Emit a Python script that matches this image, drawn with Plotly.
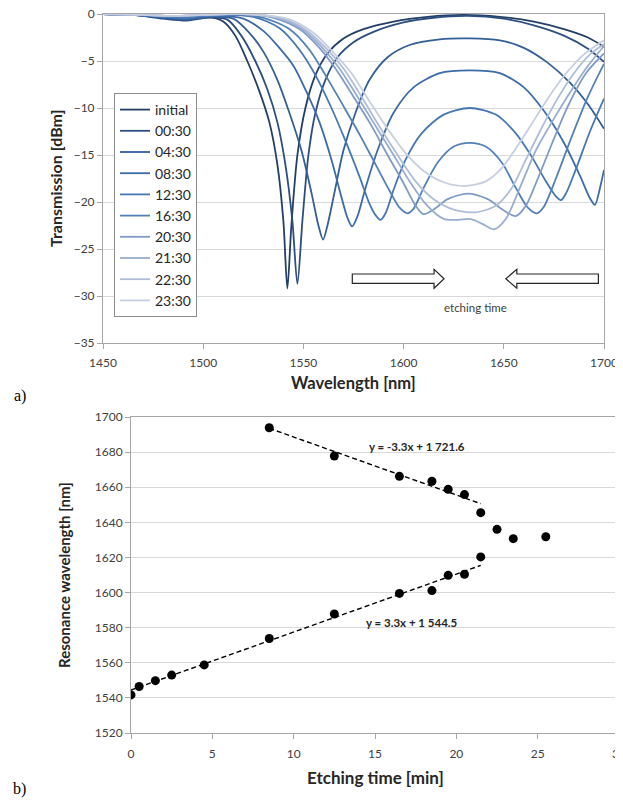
import plotly.graph_objects as go

# ---------------- Panel a) transmission spectra ----------------
legend_labels = ["initial", "00:30", "04:30", "08:30", "12:30", "16:30",
                 "20:30", "21:30", "22:30", "23:30"]

wl_initial = [1450, 1465, 1480, 1492, 1502, 1510, 1516, 1522, 1528, 1533, 1537, 1540, 1542, 1544, 1547,
              1551, 1556, 1562, 1570, 1580, 1595, 1612, 1630, 1648, 1665, 1680, 1692, 1700]
tr_initial = [0, -0.1, -0.4, -0.6, -0.3, -0.8, -2.3, -5, -8.2, -11.5, -16, -22, -29.2, -22.5, -15,
              -10, -6.5, -4.2, -2.6, -1.6, -0.8, -0.3, -0.1, -0.3, -0.8, -1.6, -2.5, -3.5]

wl_0030 = [1450, 1465, 1480, 1492, 1502, 1512, 1519, 1526, 1532, 1537, 1541, 1544.5, 1547, 1549.5, 1552.5,
           1556, 1561, 1567, 1575, 1585, 1600, 1615, 1632, 1650, 1665, 1680, 1692, 1700]
tr_0030 = [0, -0.1, -0.5, -0.7, -0.4, -0.6, -2.3, -5, -8, -11.5, -16, -22, -28.7, -22, -15,
           -10.5, -7, -4.6, -3, -1.9, -0.9, -0.4, -0.2, -0.5, -1.2, -2.3, -3.7, -5.1]

wl_0430 = [1450, 1465, 1480, 1492, 1503, 1515, 1523, 1530, 1537, 1543, 1549, 1554, 1557.5, 1559.8, 1562,
           1565.5, 1570, 1576, 1583, 1592, 1603, 1618, 1633, 1648, 1660, 1672, 1683, 1692, 1700]
tr_0430 = [0, -0.1, -0.4, -0.6, -0.3, -0.5, -2, -4, -7, -10.5, -14.5, -19, -22.5, -24, -22.5,
           -19, -14.5, -10.5, -7, -4.6, -3.3, -2.7, -2.6, -2.8, -3.6, -5.2, -7.3, -9.6, -12.2]

wl_0830 = [1450, 1465, 1480, 1492, 1505, 1520, 1530, 1538, 1545, 1552, 1558, 1564, 1569, 1572, 1574.3,
           1577, 1581, 1587, 1595, 1605, 1618, 1633, 1648, 1660, 1670, 1680, 1688, 1693, 1695.5, 1698, 1700]
tr_0830 = [0, -0.1, -0.3, -0.5, -0.2, -0.5, -1.8, -3.6, -5.5, -8.5, -11.5, -15.5, -19.5, -21.7, -22.6,
           -21.5, -18.5, -14.5, -10.5, -7.8, -6.3, -6, -6.3, -7.8, -10.3, -13.7, -17.2, -19.6, -20.3, -18.5, -16.6]

wl_1230 = [1450, 1465, 1480, 1492, 1505, 1525, 1538, 1548, 1556, 1564, 1571, 1578, 1583, 1586, 1588.5,
           1591, 1595, 1601, 1609, 1620, 1633, 1646, 1656, 1664, 1671, 1676, 1678.5, 1681, 1686, 1693, 1700]
tr_1230 = [0, -0.1, -0.3, -0.4, -0.1, -0.3, -1.5, -3.8, -6.5, -10, -13.5, -17.3, -20.2, -21.4, -21.9,
           -21.2, -18.7, -15.5, -12.7, -10.7, -10, -10.7, -12.7, -15.2, -17.8, -19.4, -19.8, -19.1, -16.5, -12.5, -9]

wl_1630 = [1450, 1470, 1485, 1500, 1515, 1530, 1543, 1553, 1561, 1570, 1578, 1586, 1593, 1598, 1602,
           1605, 1610, 1617, 1625, 1633, 1641, 1649, 1656, 1662, 1666.5, 1670, 1676, 1684, 1692, 1700]
tr_1630 = [0, -0.1, -0.3, -0.2, -0.1, -0.4, -1.6, -3.8, -6.5, -9.8, -12.8, -16, -18.8, -20.6, -21.2,
           -20.7, -18.5, -15.8, -14.1, -13.7, -14.1, -15.8, -18.5, -20.6, -21.2, -20.5, -17.5, -13, -8.8, -5.3]

wl_2030 = [1450, 1470, 1485, 1500, 1520, 1535, 1548, 1558, 1566, 1575, 1584, 1592, 1600, 1606, 1610,
           1615, 1622, 1632, 1642, 1650, 1656, 1661, 1667, 1674, 1682, 1691, 1700]
tr_2030 = [0, -0.1, -0.2, -0.1, 0, -0.4, -1.6, -3.6, -5.8, -8.8, -11.9, -15, -18, -20.4, -21.3,
           -20.8, -19.7, -19.1, -19.7, -20.9, -21.5, -20.4, -17.5, -13.8, -9.8, -6.3, -4.2]

wl_2130 = [1450, 1470, 1485, 1500, 1520, 1537, 1550, 1560, 1568, 1577, 1586, 1595, 1603, 1611, 1620,
           1627, 1633, 1639, 1645, 1651, 1658, 1666, 1674, 1682, 1691, 1700]
tr_2130 = [0, -0.1, -0.2, -0.1, 0, -0.4, -1.7, -3.7, -5.8, -8.8, -11.9, -15, -17.8, -20.2, -21.8,
           -21.9, -21.8, -22.3, -22.9, -21.8, -18.5, -14.5, -11.5, -8.7, -5.8, -3.4]

wl_2230 = [1450, 1470, 1485, 1500, 1520, 1540, 1552, 1562, 1570, 1579, 1588, 1597, 1606, 1615, 1625,
           1636, 1646, 1654, 1661, 1668, 1676, 1685, 1693, 1700]
tr_2230 = [0, -0.1, -0.2, -0.1, 0, -0.5, -1.8, -3.8, -5.8, -8.8, -12, -15, -17.8, -19.7, -20.8,
           -21.1, -20.4, -18.5, -15.5, -12.5, -9.3, -6.3, -4.3, -3.2]

wl_2330 = [1450, 1470, 1485, 1500, 1520, 1542, 1555, 1565, 1574, 1583, 1592, 1601, 1610, 1620, 1631,
           1641, 1649, 1656, 1663, 1671, 1680, 1690, 1700]
tr_2330 = [0, -0.1, -0.2, -0.1, 0, -0.5, -2, -4.1, -6.3, -9.3, -12.2, -14.8, -16.7, -17.9, -18.3,
           -17.8, -16.4, -14.3, -12, -9.3, -6.6, -4.3, -2.8]

# ---------------- Panel b) resonance wavelength vs etching time ----------------
time_lower = [0, 0.5, 1.5, 2.5, 4.5, 8.5, 12.5, 16.5, 18.5, 19.5, 20.5, 21.5]
res_lower = [1541.7, 1546.5, 1549.8, 1553, 1558.8, 1573.8, 1587.8, 1599.5, 1601.1, 1609.8, 1610.4, 1620.3]
time_upper = [8.5, 12.5, 16.5, 18.5, 19.5, 20.5, 21.5]
res_upper = [1693.9, 1677.8, 1666.2, 1663.4, 1658.8, 1655.8, 1645.5]
time_single = [22.5, 23.5, 25.5]
res_single = [1636, 1630.7, 1631.8]

fit_upper = (-3.3, 1721.6)   # slope, intercept (as printed on chart)
fit_lower = (3.3, 1544.5)
fit_upper_label = "y = -3.3x + 1 721.6"
fit_lower_label = "y = 3.3x + 1 544.5"

# ---------------- styling ----------------
line_colors = ["#243F66", "#2C4E80", "#345F97", "#3C6CA8", "#4677B3", "#5280B8",
               "#7F9BC5", "#97ACCF", "#AFBDD8", "#C6CEDF"]
FONT = "Lato, 'Open Sans', sans-serif"
GRID = "#D9D9D9"
AXLINE = "#A6A6A6"
TICKC = "#404040"

# page has an 8px body margin: the figure starts at (8, 8) of the window
OFF = 8
W, H = 623 - OFF, 802 - OFF
def fx(px):
    return (px - OFF) / W
def fy(py):
    return 1 - (py - OFF) / H

fig = go.Figure()

spectra = [(wl_initial, tr_initial), (wl_0030, tr_0030), (wl_0430, tr_0430), (wl_0830, tr_0830),
           (wl_1230, tr_1230), (wl_1630, tr_1630), (wl_2030, tr_2030), (wl_2130, tr_2130),
           (wl_2230, tr_2230), (wl_2330, tr_2330)]

for label, (wl, tr), col in zip(legend_labels, spectra, line_colors):
    fig.add_trace(go.Scatter(
        x=wl, y=tr, mode="lines", name=label,
        line=dict(color=col, width=1.8, shape="spline", smoothing=0.8),
        xaxis="x", yaxis="y", hoverinfo="skip"))

# trend lines
for (ts, (m, c)) in [(time_upper, fit_upper), (time_lower, fit_lower)]:
    xs = [min(ts), max(ts)]
    fig.add_trace(go.Scatter(
        x=xs, y=[m * v + c for v in xs], mode="lines", showlegend=False,
        line=dict(color="black", width=1.4, dash="5px,3px"),
        xaxis="x2", yaxis="y2", hoverinfo="skip"))

for ts, rs in [(time_lower, res_lower), (time_upper, res_upper), (time_single, res_single)]:
    fig.add_trace(go.Scatter(
        x=ts, y=rs, mode="markers", showlegend=False,
        marker=dict(color="black", size=9),
        xaxis="x2", yaxis="y2", hoverinfo="skip"))

axis_common = dict(showline=True, linecolor=AXLINE, linewidth=1, mirror=True,
                   ticks="outside", ticklen=5, tickcolor=AXLINE, zeroline=False,
                   automargin=False, ticklabeloverflow="allow",
                   tickfont=dict(family=FONT, size=12, color=TICKC))

fig.update_layout(
    width=W, height=H,
    margin=dict(l=0, r=0, t=0, b=0, autoexpand=False),
    paper_bgcolor="white", plot_bgcolor="white",
    font=dict(family=FONT, color=TICKC),
    xaxis=dict(domain=[fx(103), fx(604)], range=[1450, 1700], tick0=1450, dtick=50,
               showgrid=False, anchor="y", ticklabelstandoff=4, **axis_common),
    yaxis=dict(domain=[fy(343), fy(14)], range=[-35, 0], dtick=5,
               showgrid=True, gridcolor=GRID, anchor="x", **axis_common),
    xaxis2=dict(domain=[fx(131), fx(619)], range=[0, 30], tick0=0, dtick=5,
                showgrid=False, anchor="y2", ticklabelstandoff=5, **axis_common),
    yaxis2=dict(domain=[fy(733), fy(417)], range=[1520, 1700], dtick=20,
                showgrid=True, gridcolor=GRID, anchor="x2", **axis_common),
    legend=dict(x=fx(114), y=fy(93), xanchor="left", yanchor="top",
                bgcolor="white", bordercolor="#8C8C8C", borderwidth=1,
                font=dict(family=FONT, size=14, color="#262626"),
                itemwidth=30, entrywidth=47, entrywidthmode="pixels"),
    showlegend=True,
)

ann = []
def txt(x, y, s, size, bold=False, rot=0, fam=FONT, color="#262626", xanchor="center", xref="paper", yref="paper"):
    ann.append(dict(x=x, y=y, xref=xref, yref=yref, text=("<b>%s</b>" % s) if bold else s,
                    showarrow=False, textangle=rot, xanchor=xanchor, yanchor="middle",
                    font=dict(family=fam, size=size, color=color)))

txt(fx(55), fy(178), "Transmission [dBm]", 16, bold=True, rot=-90)
txt(fx(353), fy(383), "Wavelength [nm]", 16.5, bold=True)
txt(fx(64), fy(575), "Resonance wavelength [nm]", 15, bold=True, rot=-90)
txt(fx(375), fy(777), "Etching time [min]", 17, bold=True)
txt(fx(12), fy(396), "a)", 16, fam="'Liberation Serif', serif", color="black", xanchor="left")
txt(fx(11), fy(789), "b)", 16, fam="'Liberation Serif', serif", color="black", xanchor="left")
txt(1636, -31.2, "etching time", 11.5, color="#404040", xref="x", yref="y")
txt(17.6, 1683.2, fit_upper_label, 11.5, bold=True, xref="x2", yref="y2")
txt(17.3, 1582.7, fit_lower_label, 11.5, bold=True, xref="x2", yref="y2")
fig.update_layout(annotations=ann)

# hollow block arrows ("etching time" direction)
right_arrow = ("M 1574.4,-27.66 L 1615.2,-27.66 L 1615.2,-27.16 L 1620.2,-28.17 "
               "L 1615.2,-29.18 L 1615.2,-28.65 L 1574.4,-28.65 Z")
left_arrow = ("M 1697.2,-27.66 L 1656.5,-27.66 L 1656.5,-27.16 L 1651.0,-28.17 "
              "L 1656.5,-29.18 L 1656.5,-28.65 L 1697.2,-28.65 Z")
for p in (right_arrow, left_arrow):
    fig.add_shape(type="path", path=p, xref="x", yref="y",
                  line=dict(color="#262626", width=1.2), fillcolor="white")

fig.write_html("out.html")
